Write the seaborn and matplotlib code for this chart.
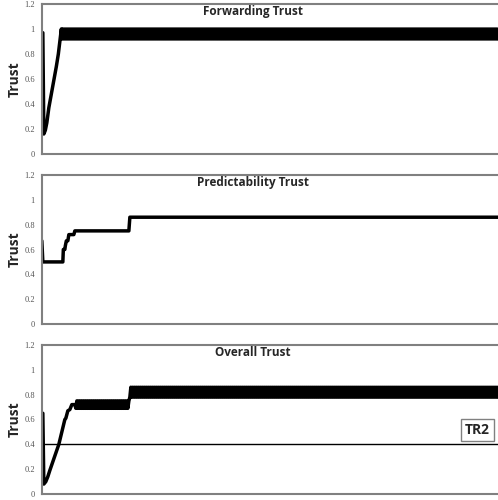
import numpy as np
import seaborn as sns
import matplotlib.pyplot as plt

# x runs over simulation steps, 0..456
x_end = 456

fwd_x = [0, 1, 2, 3.5, 5, 7, 9.5, 12, 14.5, 16.5, 18, 19.5]
fwd_y = [0.97, 0.97, 0.16, 0.19, 0.25, 0.37, 0.48, 0.59, 0.7, 0.8, 0.9, 1.0]
fwd_cycle = [0.92, 1.0]

# Predictability trust: step curve
pred_x = [0, 1, 21, 21.5, 23, 23.5, 24.5, 26, 27, 32, 33, 87, 88, x_end]
pred_y = [0.67, 0.5, 0.5, 0.6, 0.6, 0.63, 0.67, 0.67, 0.72, 0.72, 0.75, 0.75, 0.86, 0.86]

# Overall trust: early part, then two oscillation plateaus
ovr_x = [0, 1, 2, 4, 6, 8, 11, 14, 17, 20, 23, 24, 26, 28, 30, 33]
ovr_y = [0.65, 0.65, 0.08, 0.1, 0.14, 0.19, 0.26, 0.33, 0.4, 0.5, 0.6, 0.61, 0.67, 0.68, 0.72, 0.72]
ovr_cycle1 = [0.69, 0.75]
ovr_cycle2 = [0.78, 0.86]
threshold = 0.4

titles = ["Forwarding Trust", "Predictability Trust", "Overall Trust"]
yticks = [0, 0.2, 0.4, 0.6, 0.8, 1, 1.2]


def with_cycle(xs, ys, start, stop, cycle):
    steps = np.arange(start, stop + 1)
    vals = np.tile(cycle, len(steps) // len(cycle) + 1)[:len(steps)]
    return list(xs) + list(steps), list(ys) + list(vals)


fx, fy = with_cycle(fwd_x, fwd_y, 20, x_end, fwd_cycle)
ox, oy = with_cycle(ovr_x, ovr_y, 34, 87, ovr_cycle1)
ox, oy = with_cycle(ox, oy, 88, x_end, ovr_cycle2)

sns.set_style("white")
plt.rcParams['font.family'] = ['Open Sans', 'DejaVu Sans']

fig = plt.figure(figsize=(4.98, 5.0), dpi=100)
boxes = [(0.084, 0.692, 0.916, 0.300),
         (0.084, 0.352, 0.916, 0.298),
         (0.084, 0.012, 0.916, 0.298)]
series = [(fx, fy), (pred_x, pred_y), (ox, oy)]

for i, (box, (xs, ys), title) in enumerate(zip(boxes, series, titles)):
    ax = fig.add_axes(box)
    sns.lineplot(x=xs, y=ys, ax=ax, color="black", linewidth=2.5,
                 estimator=None, sort=False)
    ax.set_xlim(0, x_end)
    ax.set_ylim(0, 1.2)
    ax.set_yticks(yticks)
    ax.set_yticklabels([str(t) for t in yticks], family="Liberation Serif",
                       fontsize=6, color="#555555")
    ax.set_xticks([])
    ax.tick_params(axis="y", length=0, pad=5)
    ax.set_ylabel("Trust", fontsize=10, fontweight="bold", labelpad=2)
    for s in ax.spines.values():
        s.set_color("#808080")
        s.set_linewidth(1.5)
    ax.spines["right"].set_visible(False)
    ax.text(0.463, 0.995, title, transform=ax.transAxes, ha="center",
            va="top", fontsize=8.5, fontweight="bold")
    if i == 2:
        ax.axhline(threshold, color="black", linewidth=1)
        ax.text(0.955, 0.517 / 1.2, "TR2", transform=ax.transAxes,
                ha="center", va="center", fontsize=10, fontweight="bold",
                bbox=dict(facecolor="white", edgecolor="#808080",
                          linewidth=1, boxstyle="square,pad=0.3"))

fig.savefig("out.png", dpi=100)
